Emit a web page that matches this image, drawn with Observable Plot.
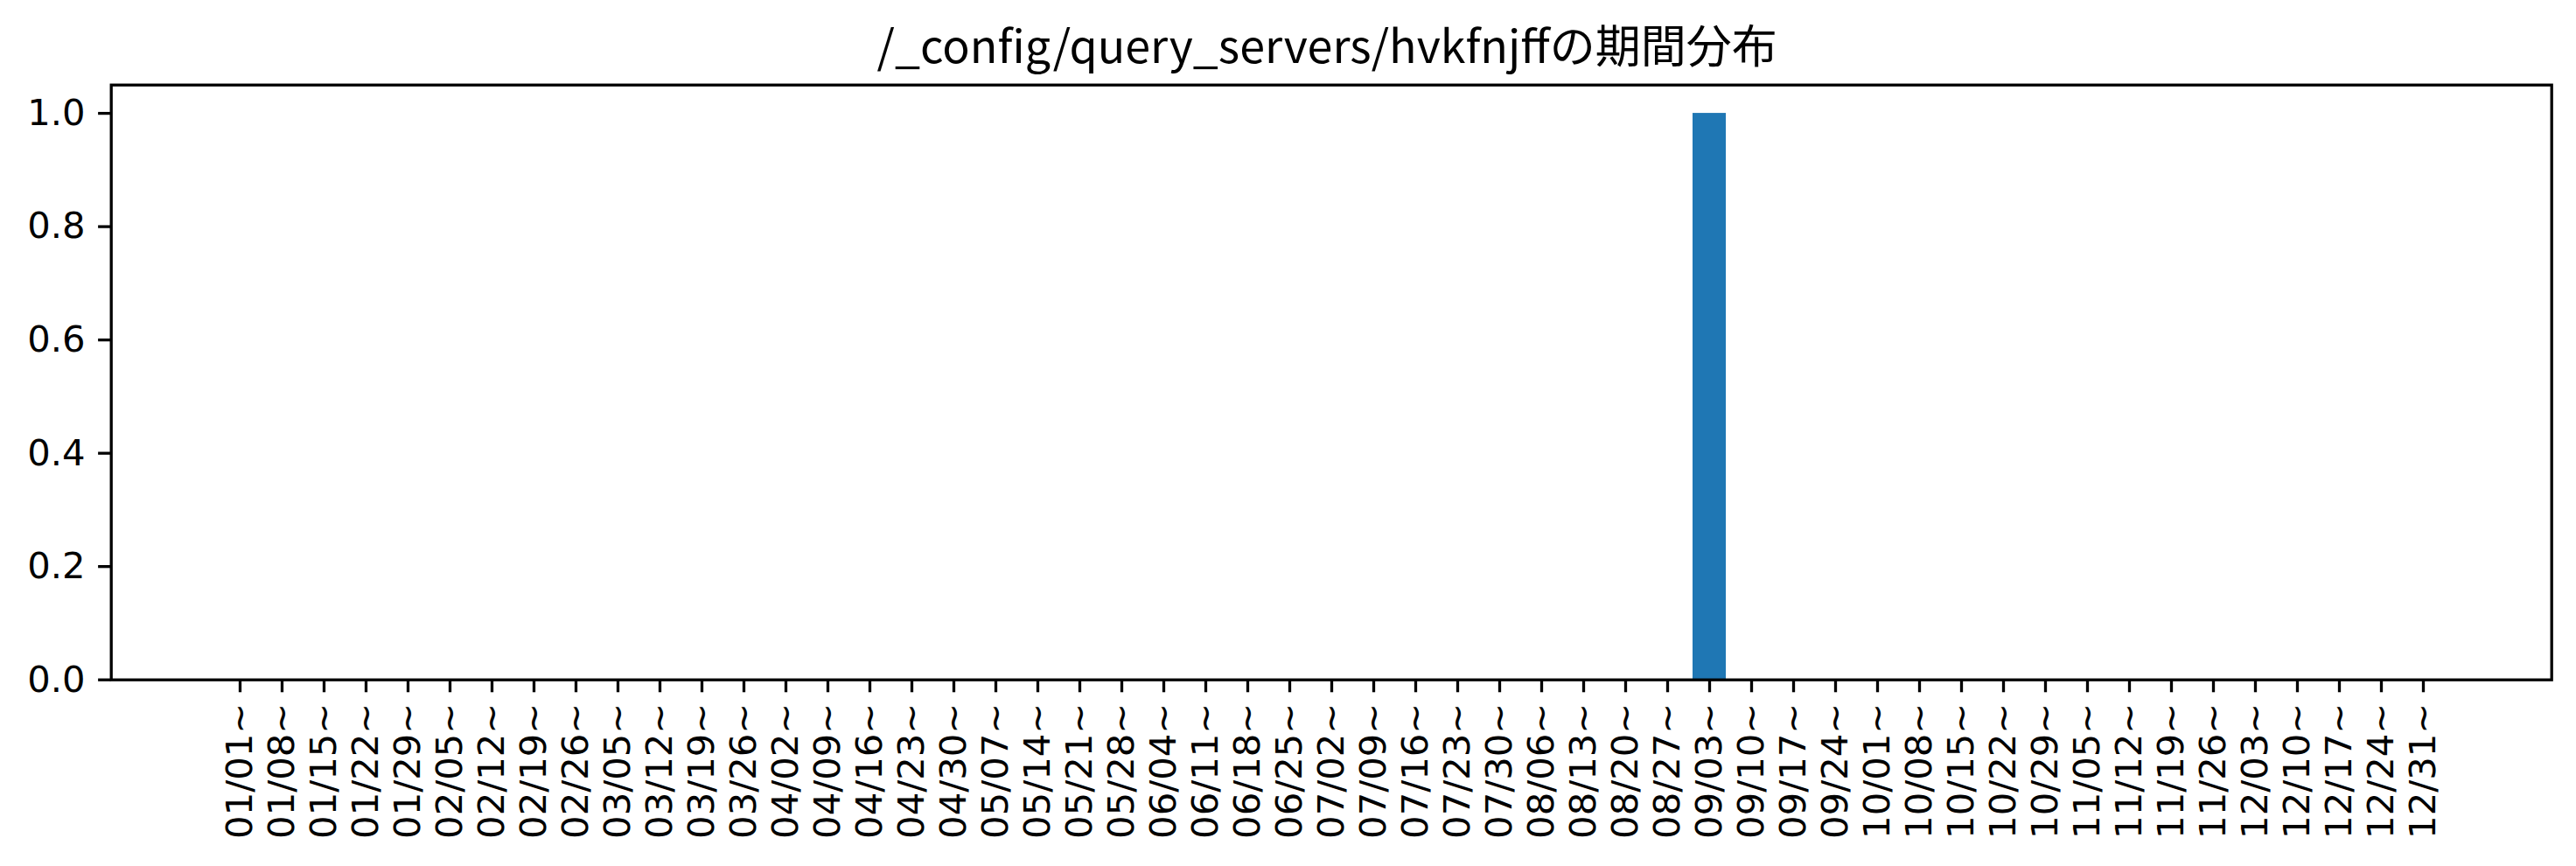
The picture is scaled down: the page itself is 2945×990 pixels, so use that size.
<!DOCTYPE html>
<html>
<head>
<meta charset="utf-8">
<script src="https://cdn.jsdelivr.net/npm/d3@7"></script>
<script src="https://cdn.jsdelivr.net/npm/@observablehq/plot@0.6"></script>
<style>
  html, body { margin: 0; padding: 0; background: #fff; }
  #chart svg { display: block; font-family: "DejaVu Sans", sans-serif; }
</style>
</head>
<body>
<div id="chart"></div>
<script>
const chartTitle = "/_config/query_servers/hvkfnjffの期間分布";

const weeks = [
  "01/01~","01/08~","01/15~","01/22~","01/29~","02/05~","02/12~","02/19~","02/26~",
  "03/05~","03/12~","03/19~","03/26~","04/02~","04/09~","04/16~","04/23~","04/30~",
  "05/07~","05/14~","05/21~","05/28~","06/04~","06/11~","06/18~","06/25~","07/02~",
  "07/09~","07/16~","07/23~","07/30~","08/06~","08/13~","08/20~","08/27~","09/03~",
  "09/10~","09/17~","09/24~","10/01~","10/08~","10/15~","10/22~","10/29~","11/05~",
  "11/12~","11/19~","11/26~","12/03~","12/10~","12/17~","12/24~","12/31~"
];

const counts = [
  0,0,0,0,0,0,0,0,0,
  0,0,0,0,0,0,0,0,0,
  0,0,0,0,0,0,0,0,0,
  0,0,0,0,0,0,0,0,1,
  0,0,0,0,0,0,0,0,0,
  0,0,0,0,0,0,0,0
];

const yTicks = [0, 0.2, 0.4, 0.6, 0.8, 1.0];

const data = weeks.map((w, i) => ({week: w, count: counts[i]}));

const lw = 3.3;
const tickFont = 41.7;
const tickFamily = "DejaVu Sans";

const plot = Plot.plot({
  width: 2945,
  height: 990,
  marginLeft: 126.7,
  marginRight: 28.3,
  marginTop: 96.7,
  marginBottom: 213.3,
  style: {
    fontFamily: "'DejaVu Sans', sans-serif",
    fontSize: tickFont + "px",
    color: "black",
    background: "white",
    overflow: "visible"
  },
  x: {
    type: "band",
    domain: weeks,
    paddingInner: 0.2,
    paddingOuter: 2.642,
    align: 0.5,
    label: null
  },
  y: {
    domain: [0, 1.05],
    label: null
  },
  marks: [
    Plot.barY(data, {x: "week", y: "count", fill: "#1f77b4"}),
    Plot.axisY({
      ticks: yTicks,
      tickFormat: d3.format(".1f"),
      tickSize: 14.6,
      tickPadding: 15,
      strokeWidth: lw,
      fontSize: tickFont,
      fontFamily: tickFamily,
      label: null
    }),
    Plot.axisX({
      tickSize: 14.6,
      tickPadding: 12,
      tickRotate: -90,
      strokeWidth: lw,
      fontSize: tickFont,
      fontFamily: tickFamily,
      label: null
    }),
    Plot.frame({stroke: "black", strokeWidth: lw}),
    Plot.text([chartTitle], {
      frameAnchor: "top",
      lineAnchor: "bottom",
      dy: -25,
      dx: -5,
      fontSize: 52,
      fontFamily: "Noto Sans CJK JP",
      fill: "black"
    })
  ]
});

document.getElementById("chart").appendChild(plot);
</script>
</body>
</html>
